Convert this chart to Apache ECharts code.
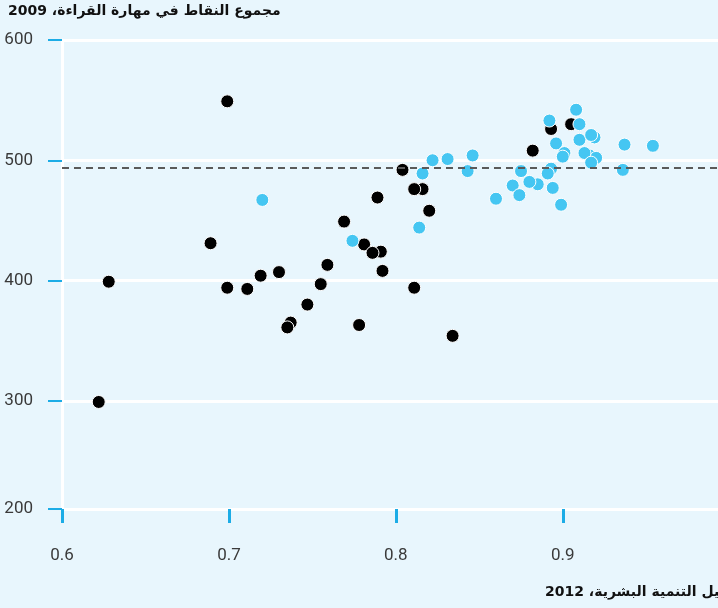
<!DOCTYPE html>
<html>
<head>
<meta charset="utf-8">
<script src="https://cdn.jsdelivr.net/npm/echarts@6/dist/echarts.min.js"></script>
<style>
  html, body { margin: 0; padding: 0; background: #e8f6fd; }
  #chart { width: 718px; height: 608px; }
</style>
</head>
<body>
<div id="chart"></div>
<script>
// reading score (PISA 2009) against human development index 2012
const titleText = 'مجموع النقاط في مهارة القراءة، 2009';
const xAxisText = 'دليل التنمية البشرية، 2012';

const xTicks = [0.6, 0.7, 0.8, 0.9];
const xTickLabels = ['0.6', '0.7', '0.8', '0.9'];
// bottom gridline of the original sits a little above a true 200
const yTicks = [210, 300, 400, 500, 600];
const yTickLabels = ['200', '300', '400', '500', '600'];
const averageScore = 494;

// [hdi, score]
const blackPoints = [
    [0.699, 549], [0.689, 431], [0.628, 399], [0.622, 299], [0.699, 394],
    [0.711, 393], [0.719, 404], [0.730, 407], [0.759, 413], [0.755, 397],
    [0.747, 380], [0.737, 365], [0.735, 361], [0.769, 449], [0.781, 430],
    [0.791, 424], [0.786, 423], [0.792, 408], [0.789, 469], [0.778, 363],
    [0.816, 476], [0.811, 476], [0.820, 458], [0.811, 394], [0.834, 354],
    [0.804, 492], [0.882, 508], [0.893, 526], [0.905, 530]
];
const bluePoints = [
    [0.720, 467], [0.774, 433], [0.814, 444], [0.816, 489], [0.822, 500],
    [0.831, 501], [0.846, 504], [0.843, 491], [0.860, 468], [0.875, 491],
    [0.870, 479], [0.874, 471], [0.885, 480], [0.880, 482], [0.893, 493],
    [0.891, 489], [0.894, 477], [0.899, 463], [0.892, 533], [0.896, 514],
    [0.901, 506], [0.900, 503], [0.908, 542], [0.910, 530], [0.910, 517],
    [0.919, 519], [0.917, 521], [0.916, 504], [0.920, 502], [0.913, 506],
    [0.917, 498], [0.937, 513], [0.936, 492], [0.954, 512]
];

const tickBlue = '#1cace6';
const labelFont = 'Roboto, sans-serif';

const chart = echarts.init(document.getElementById('chart'), null, { renderer: 'canvas' });

chart.setOption({
    backgroundColor: '#e8f6fd',
    animation: false,
    grid: { left: 62, right: 0, top: 40, bottom: 99 },
    xAxis: {
        type: 'value',
        min: 0.6,
        max: 0.993,
        axisLine: { show: false },
        splitLine: { show: false },
        axisTick: {
            show: true,
            customValues: xTicks,
            length: 14,
            lineStyle: { color: tickBlue, width: 3 }
        },
        axisLabel: {
            customValues: xTicks,
            formatter: v => xTickLabels[xTicks.indexOf(v)] ?? '',
            margin: 38,
            fontSize: 17,
            color: '#3a3a3a',
            fontFamily: labelFont
        }
    },
    yAxis: {
        type: 'value',
        min: 210,
        max: 600,
        axisLine: { show: true, lineStyle: { color: '#ffffff', width: 3 } },
        splitLine: { show: true, lineStyle: { color: '#ffffff', width: 3 } },
        axisTick: {
            show: true,
            customValues: yTicks,
            length: 14,
            lineStyle: { color: tickBlue, width: 2 }
        },
        axisLabel: {
            customValues: yTicks,
            formatter: v => yTickLabels[yTicks.indexOf(v)] ?? '',
            margin: 29,
            fontSize: 17,
            color: '#3a3a3a',
            fontFamily: labelFont
        }
    },
    graphic: [
        {
            type: 'text', left: 8, top: 4,
            style: { text: titleText, font: 'bold 14px "DejaVu Sans"', fill: '#111' }
        },
        {
            type: 'text', left: 545, top: 585,
            style: { text: xAxisText, font: 'bold 14px "DejaVu Sans"', fill: '#111' }
        }
    ],
    series: [
        {
            type: 'scatter',
            data: blackPoints,
            symbolSize: 13,
            itemStyle: { color: '#000000', borderColor: '#ffffff', borderWidth: 1, opacity: 1 },
            markLine: {
                silent: true,
                symbol: 'none',
                label: { show: false },
                lineStyle: { color: '#5a5a5a', type: [7, 5], width: 2 },
                data: [{ yAxis: averageScore }]
            },
            z: 3
        },
        {
            type: 'scatter',
            data: bluePoints,
            symbolSize: 13,
            itemStyle: { color: '#45c6f2', borderColor: '#ffffff', borderWidth: 1, opacity: 1 },
            z: 4
        }
    ]
});
</script>
</body>
</html>
